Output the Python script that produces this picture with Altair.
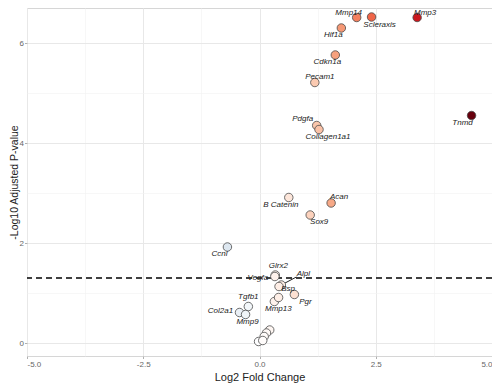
import altair as alt
import pandas as pd

# ---- data ----
genes = ["Mmp3", "Mmp14", "Scleraxis", "Hif1a", "Cdkn1a", "Pecam1", "Pdgfa",
         "Collagen1a1", "Tnmd", "B Catenin", "Acan", "Sox9", "Ccnl", "Glrx2",
         "Vegfa", "Alpl", "Bsp", "Pgr", "Mmp13", "u1", "Tgfb1", "Col2a1", "Mmp9",
         "u2", "u3", "u4", "u5", "u6"]
log2fc = [3.39, 2.09, 2.41, 1.76, 1.63, 1.19, 1.23,
          1.28, 4.56, 0.63, 1.54, 1.09, -0.69, 0.34,
          0.33, 0.47, 0.42, 0.75, 0.32, 0.41, -0.24, -0.43, -0.30,
          0.22, 0.15, 0.10, -0.02, 0.07]
neglog10p = [6.51, 6.51, 6.52, 6.30, 5.76, 5.21, 4.35,
             4.27, 4.55, 2.91, 2.80, 2.56, 1.92, 1.36,
             1.33, 1.16, 1.13, 0.97, 0.83, 0.91, 0.73, 0.61, 0.57,
             0.26, 0.20, 0.13, 0.03, 0.05]
labelled = [True] * 19 + [False] + [True] * 3 + [False] * 5
threshold = 1.301

x_ticks = [-5.0, -3.75, -2.5, -1.25, 0.0, 1.25, 2.5, 3.75, 5.0]
y_ticks = [0, 1, 2, 3, 4, 5, 6]

# colour ramp stops (fold change -> fill)
fc_stops = [-4.56, 0.0, 0.63, 1.1, 1.6, 2.09, 2.41, 3.39, 4.56]
fc_colors = ["#1e609c", "#ffffff", "#fde6da", "#fcd2bc", "#f6a380",
             "#f4805e", "#ef6548", "#cb181d", "#67000d"]

# label offsets (pixels) like ggrepel placed them
label_offset = {
    "Mmp3": (8, -5), "Mmp14": (-8, -5), "Scleraxis": (8, 8), "Hif1a": (-8, 7),
    "Cdkn1a": (-8, 7), "Pecam1": (5, -6), "Pdgfa": (-14, -7),
    "Collagen1a1": (9, 7), "Tnmd": (-9, 7), "B Catenin": (-8, 7),
    "Acan": (8, -6), "Sox9": (9, 7), "Ccnl": (-8, 7), "Glrx2": (3, -9),
    "Vegfa": (-17, 1), "Alpl": (22, -11), "Bsp": (9, 2), "Pgr": (11, 7),
    "Mmp13": (4, 7), "Tgfb1": (0, -10), "Col2a1": (-19, -2), "Mmp9": (2, 7),
}
segment_gene = "Alpl"
segment_end = (15, -8)

W, H = 465, 348
XD = [-5.0, 5.0]
YD = [-0.26, 6.70]
px_x = W / (XD[1] - XD[0])
px_y = H / (YD[1] - YD[0])

df = pd.DataFrame({"gene": genes, "fc": log2fc, "p": neglog10p, "lab": labelled})
lab = df[df["lab"]].copy()
lab["lx"] = [r.fc + label_offset[r.gene][0] / px_x for r in lab.itertuples()]
lab["ly"] = [r.p - label_offset[r.gene][1] / px_y for r in lab.itertuples()]

seg = df[df["gene"] == segment_gene].copy()
seg["x2"] = seg["fc"] + segment_end[0] / px_x
seg["y2"] = seg["p"] - segment_end[1] / px_y

xscale = alt.Scale(domain=XD, nice=False, zero=False)
yscale = alt.Scale(domain=YD, nice=False, zero=False)

FONT = "Liberation Sans"

xaxis = alt.Axis(
    values=x_ticks, title="Log2 Fold Change", domain=False,
    labelExpr="datum.value % 2.5 === 0 ? (datum.value < 0 ? '-' : '') + format(abs(datum.value), '.1f') : ''",
    gridColor={"condition": {"test": "datum.value % 2.5 === 0", "value": "#e8e8e8"}, "value": "#f2f2f2"},
    gridWidth={"condition": {"test": "datum.value % 2.5 === 0", "value": 1}, "value": 0.6},
    tickOpacity={"condition": {"test": "datum.value % 2.5 === 0", "value": 1}, "value": 0},
    tickColor="#b0b0b0", tickSize=2.5, labelPadding=2,
    labelFont=FONT, labelFontSize=8, labelColor="#666666",
    titleFont=FONT, titleFontSize=11, titleFontWeight="normal", titleColor="#222222",
    titlePadding=3,
)
yaxis = alt.Axis(
    values=y_ticks, title="-Log10 Adjusted P-value", domain=False,
    labelExpr="datum.value % 2 === 0 ? format(datum.value, 'd') : ''",
    gridColor={"condition": {"test": "datum.value % 2 === 0", "value": "#e8e8e8"}, "value": "#f2f2f2"},
    gridWidth={"condition": {"test": "datum.value % 2 === 0", "value": 1}, "value": 0.6},
    tickOpacity={"condition": {"test": "datum.value % 2 === 0", "value": 1}, "value": 0},
    tickColor="#b0b0b0", tickSize=2.5, labelPadding=1,
    labelFont=FONT, labelFontSize=8, labelColor="#666666",
    titleFont=FONT, titleFontSize=10.5, titleFontWeight="normal", titleColor="#222222",
    titlePadding=0,
)

points = alt.Chart(df).mark_point(
    filled=True, shape="circle", size=72, stroke="#4a4a4a", strokeWidth=0.8, opacity=1
).encode(
    x=alt.X("fc:Q", scale=xscale, axis=xaxis),
    y=alt.Y("p:Q", scale=yscale, axis=yaxis),
    fill=alt.Fill("fc:Q", scale=alt.Scale(domain=fc_stops, range=fc_colors, interpolate="rgb"),
                  legend=None),
)

hline = alt.Chart(pd.DataFrame({"t": [threshold]})).mark_rule(
    color="black", strokeDash=[6, 4], strokeWidth=1.4
).encode(y=alt.Y("t:Q", scale=yscale))

segment = alt.Chart(seg).mark_rule(color="#222222", strokeWidth=1).encode(
    x=alt.X("fc:Q", scale=xscale), y=alt.Y("p:Q", scale=yscale),
    x2="x2:Q", y2="y2:Q",
)

texts = alt.Chart(lab).mark_text(
    font=FONT, fontSize=8, fontStyle="italic", fill="#222222", align="center", baseline="middle"
).encode(
    x=alt.X("lx:Q", scale=xscale), y=alt.Y("ly:Q", scale=yscale), text="gene:N"
)

chart = alt.layer(hline, segment, points, texts).properties(
    width=W, height=H,
    autosize=alt.AutoSizeParams(type="none"),
    padding={"left": 19, "top": 0, "right": 0, "bottom": 30},
    background="white",
).configure_view(stroke="#d6d6d6", strokeWidth=1)

chart.save("out.html", embed_options={"renderer": "svg", "actions": False})
